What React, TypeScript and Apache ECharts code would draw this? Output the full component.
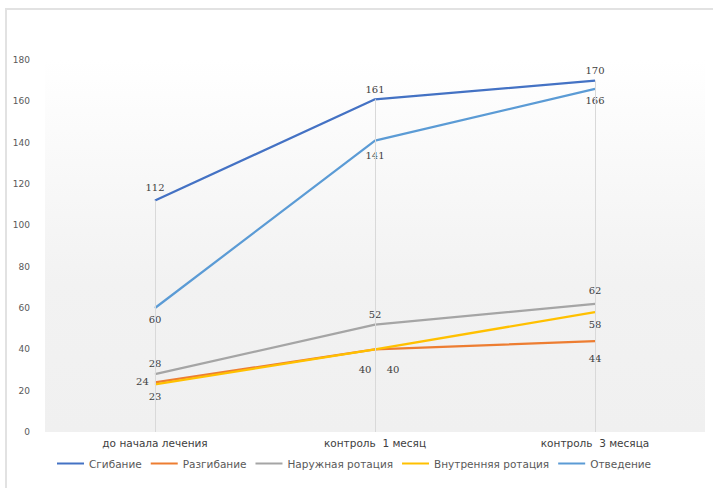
import React, { useEffect, useRef } from "react";
import * as echarts from "echarts";

const categories = ["до начала лечения", "контроль  1 месяц", "контроль  3 месяца"];
const flexion = [112, 161, 170];
const extension = [24, 40, 44];
const externalRotation = [28, 52, 62];
const internalRotation = [23, 40, 58];
const abduction = [60, 141, 166];

const labelColor = "#404040";
const sans = "DejaVu Sans";
const serif = "DejaVu Serif";

export default function App() {
  const ref = useRef<HTMLDivElement>(null);

  useEffect(() => {
    document.body.style.margin = "0";
    const chart = echarts.init(ref.current!, null, { renderer: "svg" });

    const lbl = (position: any, extra: any = {}) => ({
      show: true,
      position,
      fontSize: 10,
      color: labelColor,
      textBorderWidth: 0,
      fontFamily: serif,
      ...extra,
    });

    const common = {
      type: "line",
      symbol: "circle",
      symbolSize: 0.5,
      showSymbol: true,
      lineStyle: { width: 2.25 },
      z: 3,
    };

    const series: any[] = [
      {
        ...common,
        name: "Сгибание",
        color: "#4472C4",
        data: flexion.map((v, i) => ({
          value: v,
          label: i === 0 ? lbl("top", { offset: [0, -3] }) : lbl("top", { offset: [0, 0] }),
        })),
        markLine: {
          silent: true,
          symbol: "none",
          label: { show: false },
          lineStyle: { color: "#d9d9d9", width: 1, type: "solid" },
          data: flexion.map((v, i) => [
            { coord: [i, v] },
            { coord: [i, 0] },
          ]),
        },
      },
      {
        ...common,
        name: "Разгибание",
        color: "#ED7D31",
        data: extension.map((v, i) => ({
          value: v,
          label:
            i === 0
              ? lbl("left", { offset: [-1, -1] })
              : i === 1
              ? lbl("bottom", { offset: [18, 10] })
              : lbl("bottom", { offset: [0, 7] }),
        })),
      },
      {
        ...common,
        name: "Наружная ротация",
        color: "#A5A5A5",
        data: externalRotation.map((v, i) => ({
          value: v,
          label: lbl("top", { offset: [0, i === 2 ? -3 : 0] }),
        })),
      },
      {
        ...common,
        name: "Внутренняя ротация",
        color: "#FFC000",
        data: internalRotation.map((v, i) => ({
          value: v,
          label:
            i === 1
              ? lbl("bottom", { offset: [-10, 10] })
              : lbl("bottom", { offset: [0, 2] }),
        })),
      },
      {
        ...common,
        name: "Отведение",
        color: "#5B9BD5",
        data: abduction.map((v, i) => ({
          value: v,
          label: lbl("bottom", { offset: [0, i === 1 ? 5 : 1] }),
        })),
      },
    ];

    chart.setOption({
      animation: false,
      backgroundColor: "#ffffff",
      textStyle: { fontFamily: sans },
      graphic: [
        {
          type: "rect",
          shape: { x: 6, y: 9, width: 800, height: 600 },
          style: { fill: "none", stroke: "#e2e2e2", lineWidth: 2 },
          silent: true,
        },
      ],
      grid: {
        left: 45,
        right: 8,
        top: 60,
        bottom: 56,
        show: true,
        borderWidth: 0,
        backgroundColor: new echarts.graphic.LinearGradient(0, 0, 0, 1, [
          { offset: 0, color: "#ffffff" },
          { offset: 0.6, color: "#f2f2f2" },
          { offset: 1, color: "#f0f0f0" },
        ]),
      },
      xAxis: {
        type: "category",
        data: categories,
        boundaryGap: true,
        axisLine: { show: false },
        axisTick: { show: false },
        axisLabel: { color: "#404040", fontSize: 10.5, margin: 5, fontFamily: sans },
        splitLine: { show: false },
      },
      yAxis: {
        type: "value",
        min: 0,
        max: 180,
        interval: 20,
        axisLine: { show: false },
        axisTick: { show: false },
        splitLine: { show: false },
        axisLabel: { color: "#595959", fontSize: 9, margin: 15, fontFamily: sans },
      },
      legend: {
        bottom: 14,
        left: 52,
        icon: "rect",
        itemWidth: 27,
        itemHeight: 2,
        itemGap: 9,
        textStyle: { color: "#595959", fontSize: 10.5, fontFamily: sans },
        data: ["Сгибание", "Разгибание", "Наружная ротация", "Внутренняя ротация", "Отведение"],
      },
      series,
    });

    return () => chart.dispose();
  }, []);

  return (
    <div
      ref={ref}
      style={{ position: "absolute", left: 0, top: 0, width: 713, height: 488 }}
    />
  );
}
